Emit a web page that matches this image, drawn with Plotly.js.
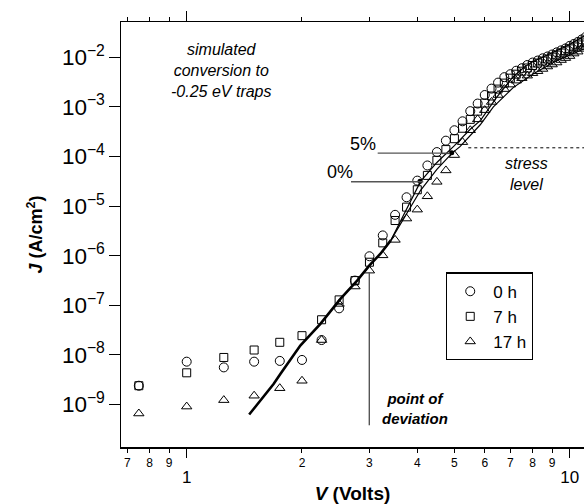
<!DOCTYPE html>
<html>
<head>
<meta charset="utf-8">
<script src="https://cdn.plot.ly/plotly-3.0.1.min.js"></script>
<style>html,body{margin:0;padding:0;background:#fff;}#chart{width:584px;height:504px;}</style>
</head>
<body>
<div id="chart"></div>
<script>
// Bias voltage (V) for the measured points
var voltage = [0.75, 1.0, 1.25, 1.5, 1.75, 2.0, 2.25, 2.5, 2.75, 3.0, 3.25, 3.5, 3.75, 4.0, 4.25, 4.5, 4.75, 5.0, 5.25, 5.5, 5.75, 6.0, 6.25, 6.5, 6.75, 7.0, 7.25, 7.5, 7.75, 8.0, 8.25, 8.5, 8.75, 9.0, 9.25, 9.5, 9.75, 10.0, 10.25, 10.5, 10.75, 11.0];
// Current density J (A/cm^2)
var j0h = [2.40e-9, 7.33e-9, 5.62e-9, 7.33e-9, 7.59e-9, 7.94e-9, 2.00e-8, 8.71e-8, 3.16e-7, 9.77e-7, 2.57e-6, 6.68e-6, 1.51e-5, 3.27e-5, 6.61e-5, 1.23e-4, 2.09e-4, 3.39e-4, 5.13e-4, 8.22e-4, 1.17e-3, 1.74e-3, 2.34e-3, 3.09e-3, 3.98e-3, 4.57e-3, 5.37e-3, 6.03e-3, 7.00e-3, 7.85e-3, 8.61e-3, 9.55e-3, 1.04e-2, 1.14e-2, 1.26e-2, 1.38e-2, 1.51e-2, 1.70e-2, 1.86e-2, 2.04e-2, 2.29e-2, 2.57e-2];
var j7h = [2.40e-9, 4.37e-9, 8.91e-9, 1.26e-8, 1.80e-8, 2.45e-8, 5.13e-8, 1.29e-7, 3.16e-7, 7.41e-7, 1.82e-6, 5.13e-6, 9.55e-6, 2.14e-5, 4.17e-5, 8.41e-5, 1.38e-4, 2.29e-4, 3.72e-4, 5.62e-4, 8.22e-4, 1.20e-3, 1.66e-3, 2.29e-3, 3.02e-3, 3.80e-3, 4.57e-3, 5.25e-3, 6.10e-3, 6.84e-3, 7.67e-3, 8.41e-3, 9.23e-3, 1.01e-2, 1.11e-2, 1.22e-2, 1.35e-2, 1.48e-2, 1.62e-2, 1.78e-2, 1.95e-2, 2.14e-2];
var j17h = [6.61e-10, 9.12e-10, 1.23e-9, 1.51e-9, 2.14e-9, 3.02e-9, 2.00e-8, 1.07e-7, 2.40e-7, 5.01e-7, 1.02e-6, 2.09e-6, 5.62e-6, 8.51e-6, 1.58e-5, 3.09e-5, 5.25e-5, 1.07e-4, 1.95e-4, 3.39e-4, 5.62e-4, 8.61e-4, 1.26e-3, 1.74e-3, 2.29e-3, 2.82e-3, 3.39e-3, 3.80e-3, 4.27e-3, 4.79e-3, 5.25e-3, 5.82e-3, 6.53e-3, 7.16e-3, 7.85e-3, 8.81e-3, 9.66e-3, 1.06e-2, 1.19e-2, 1.30e-2, 1.48e-2, 1.62e-2];
var seriesNames = ['0 h', '7 h', '17 h'];

// Simulation, common low-bias part (thick line)
var simLowV = [1.456, 1.686, 1.756, 1.98, 2.234, 2.52, 2.786, 3.0, 3.206, 3.41];
var simLowJ = [6.31e-10, 2.59e-9, 4.13e-9, 1.55e-8, 4.23e-8, 1.35e-7, 3.16e-7, 6.37e-7, 1.10e-6, 2.04e-6];
// Simulation, 0% conversion
var sim0V = [3.41, 3.75, 4.08, 4.5, 5.0, 5.5, 5.85, 6.45, 7.12, 7.6, 8.04, 8.5, 9.24, 10.0, 10.85, 11.2];
var sim0J = [2.04e-6, 8.91e-6, 3.16e-5, 7.59e-5, 1.66e-4, 3.55e-4, 5.37e-4, 1.58e-3, 4.07e-3, 6.31e-3, 8.32e-3, 1.00e-2, 1.35e-2, 1.82e-2, 2.63e-2, 2.95e-2];
// Simulation, 5% conversion
var sim5V = [3.41, 3.75, 4.08, 4.5, 4.93, 5.17, 5.84, 6.32, 7.12, 8.04, 9.24, 10.85, 11.2];
var sim5J = [2.04e-6, 6.76e-6, 2.09e-5, 5.50e-5, 1.17e-4, 1.58e-4, 4.37e-4, 1.00e-3, 2.45e-3, 4.68e-3, 8.51e-3, 1.45e-2, 1.66e-2];
// Points marked on the simulated curves (0%, 5%)
var markV = [4.065, 4.92];
var markJ = [3.16e-5, 1.19e-4];

// tick labels
var minorTickVals = [0.7, 0.8, 0.9, 2, 3, 4, 5, 6, 7, 8, 9];
var minorTickText = ['7', '8', '9', '2', '3', '4', '5', '6', '7', '8', '9'];
var majorTickVals = [1, 10];
var majorTickText = ['1', '10'];

var FONT = 'Liberation Sans, Arial, Helvetica, sans-serif';
var xr = [-0.1715, 1.0373];

var traces = [
  {x: simLowV, y: simLowJ, mode: 'lines', line: {color: 'black', width: 2.6}, showlegend: false, hoverinfo: 'skip'},
  {x: sim0V, y: sim0J, mode: 'lines', line: {color: 'black', width: 1.2}, showlegend: false, hoverinfo: 'skip'},
  {x: sim5V, y: sim5J, mode: 'lines', line: {color: 'black', width: 1.2}, showlegend: false, hoverinfo: 'skip'},
  {x: voltage, y: j0h, name: seriesNames[0], mode: 'markers', marker: {symbol: 'circle-open', size: 9, color: 'black', line: {width: 1, color: 'black'}}},
  {x: voltage, y: j7h, name: seriesNames[1], mode: 'markers', marker: {symbol: 'square-open', size: 8, color: 'black', line: {width: 1, color: 'black'}}},
  {x: voltage, y: j17h, name: seriesNames[2], mode: 'markers', marker: {symbol: 'triangle-up-open', size: 9, color: 'black', line: {width: 1, color: 'black'}}},
  {x: markV, y: markJ, mode: 'markers', marker: {symbol: 'circle', size: 5, color: 'black'}, showlegend: false, hoverinfo: 'skip'},
  {x: [], y: [], xaxis: 'x2', yaxis: 'y', showlegend: false, hoverinfo: 'skip'}
];

var layout = {
  width: 584, height: 504,
  margin: {l: 121, r: 0, t: 22, b: 57, pad: 0},
  paper_bgcolor: 'white', plot_bgcolor: 'white',
  font: {family: FONT, color: 'black'},
  showlegend: true,
  legend: {x: 0.702, y: 0.4106, xanchor: 'left', yanchor: 'top', bordercolor: 'black', borderwidth: 1.2,
           bgcolor: 'white', font: {size: 17, family: FONT}, itemwidth: 36, tracegroupgap: 0},
  xaxis: {type: 'log', range: xr, tickmode: 'array', tickvals: minorTickVals, ticktext: minorTickText,
          ticks: 'outside', ticklen: 4, tickwidth: 1, tickcolor: 'black', showline: true, linecolor: 'black', linewidth: 1.5,
          mirror: 'ticks', showgrid: false, zeroline: false, tickfont: {size: 12}, automargin: false,
          title: {text: '<b><i>V</i> (Volts)</b>', font: {size: 19}, standoff: 24}},
  xaxis2: {type: 'log', range: xr, overlaying: 'x', anchor: 'y', side: 'bottom', tickmode: 'array',
           tickvals: majorTickVals, ticktext: majorTickText, ticks: 'outside', ticklen: 10, tickwidth: 1, tickcolor: 'black',
           showline: false, mirror: 'ticks', showgrid: false, zeroline: false, tickfont: {size: 17},
           ticklabelstandoff: 5, automargin: false},
  yaxis: {type: 'log', range: [-9.855, -1.288], dtick: 1, exponentformat: 'power', ticks: 'outside', ticklen: 11,
          tickwidth: 1, tickcolor: 'black', showline: true, linecolor: 'black', linewidth: 1.5, showgrid: false,
          zeroline: false, tickfont: {size: 18}, automargin: false,
          title: {text: '<b><i>J</i> (A/cm<sup>2</sup>)</b>', font: {size: 18}, standoff: 14}},
  shapes: [
    // 5% leader
    {type: 'line', xref: 'paper', yref: 'paper', x0: 0.5544, x1: 0.7106, y0: 0.6915, y1: 0.6915, line: {color: '#555', width: 1.4}},
    // 0% leader
    {type: 'line', xref: 'paper', yref: 'paper', x0: 0.4968, x1: 0.6529, y0: 0.6240, y1: 0.6240, line: {color: '#555', width: 1.4}},
    // stress level
    {type: 'line', xref: 'paper', yref: 'paper', x0: 0.7501, x1: 1.0, y0: 0.7040, y1: 0.7040, line: {color: 'black', width: 1, dash: 'dot'}},
    // point of deviation
    {type: 'line', xref: 'paper', yref: 'paper', x0: 0.5363, x1: 0.5363, y0: 0.4113, y1: 0.0511, line: {color: '#555', width: 1.4}}
  ],
  annotations: [
    {xref: 'x', yref: 'y', x: 0.0914, y: -2.258, text: '<i>simulated<br>conversion to<br>-0.25 eV traps</i>', showarrow: false, font: {size: 16}, align: 'center', xanchor: 'center', yanchor: 'middle'},
    {xref: 'x', yref: 'y', x: 0.4611, y: -3.755, text: '5%', showarrow: false, font: {size: 18}, xanchor: 'center', yanchor: 'middle'},
    {xref: 'x', yref: 'y', x: 0.3998, y: -4.320, text: '0%', showarrow: false, font: {size: 18}, xanchor: 'center', yanchor: 'middle'},
    {xref: 'x', yref: 'y', x: 0.8877, y: -4.358, text: '<i>stress<br>level</i>', showarrow: false, font: {size: 16}, align: 'center', xanchor: 'center', yanchor: 'middle'},
    {xref: 'x', yref: 'y', x: 0.5961, y: -9.075, text: '<b><i>point of<br>deviation</i></b>', showarrow: false, font: {size: 15}, align: 'center', xanchor: 'center', yanchor: 'middle'}
  ]
};

Plotly.newPlot('chart', traces, layout, {staticPlot: true, displayModeBar: false});
</script>
</body>
</html>
